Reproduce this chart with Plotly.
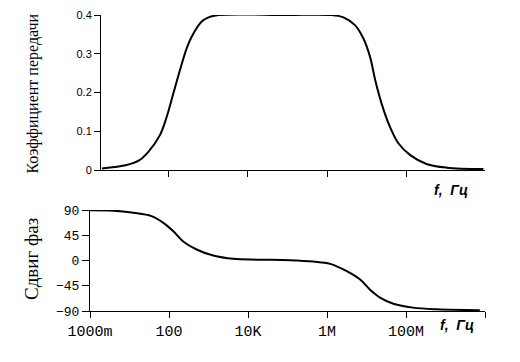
import math
import plotly.graph_objects as go

# Magnitude response (transfer coefficient)
mag_freq = [2, 8.5, 17, 30, 59, 88, 129, 190, 280, 375, 675, 1000, 1800, 1.0e5,
            1.2e6, 2.6e6, 5.1e6, 8.3e6, 1.23e7, 1.66e7, 2.4e7, 3.9e7, 6.4e7,
            1.26e8, 3.3e8, 1.07e9, 9.1e9]
mag_val = [0.004, 0.013, 0.024, 0.047, 0.090, 0.138, 0.198, 0.258, 0.314, 0.344,
           0.383, 0.394, 0.400, 0.400, 0.400, 0.394, 0.374, 0.340, 0.292, 0.232,
           0.172, 0.112, 0.069, 0.039, 0.0155, 0.006, 0.0026]

# Phase response
ph_freq = [1, 3.9, 12.6, 36, 72, 129, 229, 500, 1320, 4270, 1.66e4, 1.15e5, 4.5e5,
           1.2e6, 3.16e6, 6.9e6, 1.23e7, 2.2e7, 4.8e7, 1.5e8, 6e8, 7.4e9]
ph_val = [89.6, 88.8, 85, 79, 67, 52, 34, 19.6, 8.9, 3.0, 1.5, 0.5, -2, -6, -19,
          -34, -52, -66, -77, -84, -87, -88.6]

x_tickvals = [1, 100, 1e4, 1e6, 1e8, 1e10]
x_ticktext = ["1000m", "100", "10K", "1M", "100M", ""]
mag_tickvals = [0, 0.1, 0.2, 0.3, 0.4]
mag_ticktext = ["0", "0.1", "0.2", "0.3", "0.4"]
ph_tickvals = [90, 45, 0, -45, -90]
ph_ticktext = ["90", "45", "0", "\u221245", "\u221290"]

W, H = 520, 362
OFF = 8  # page body margin


def px(x):
    return (x - OFF) / W


def py(y):
    return 1 - (y - OFF) / H


fig = go.Figure()
fig.add_trace(go.Scatter(x=mag_freq, y=mag_val, mode="lines",
                         line=dict(color="black", width=2, shape="spline", smoothing=1.0),
                         xaxis="x", yaxis="y", hoverinfo="skip", cliponaxis=True))
fig.add_trace(go.Scatter(x=ph_freq, y=ph_val, mode="lines",
                         line=dict(color="black", width=2, shape="spline", smoothing=1.0),
                         xaxis="x2", yaxis="y2", hoverinfo="skip"))

common = dict(showline=True, linecolor="black", linewidth=1, ticks="outside",
              tickcolor="black", tickwidth=1, showgrid=False, zeroline=False,
              automargin=False)

fig.update_layout(
    width=W, height=H,
    margin=dict(l=0, r=0, t=0, b=0, pad=0, autoexpand=False),
    paper_bgcolor="white", plot_bgcolor="white",
    showlegend=False,
    xaxis=dict(type="log", range=[math.log10(1.9), 10],
               domain=[px(101), px(485)], anchor="y",
               tickvals=x_tickvals[1:5], showticklabels=False, ticklen=6, **common),
    yaxis=dict(range=[0, 0.4], domain=[py(170), py(15)], anchor="x",
               tickvals=mag_tickvals, ticktext=mag_ticktext, ticklen=6,
               tickfont=dict(family="Liberation Sans", size=11, color="black"), **common),
    xaxis2=dict(type="log", range=[0, 10], domain=[px(90), px(485)], anchor="y2",
                tickvals=x_tickvals, ticktext=x_ticktext, ticklen=6,
                tickfont=dict(family="Liberation Mono", size=15, color="black"), **common),
    yaxis2=dict(range=[-90, 90], domain=[py(311), py(210)], anchor="x2",
                tickvals=ph_tickvals, ticktext=ph_ticktext, ticklen=7,
                tickfont=dict(family="Liberation Mono", size=13, color="black"), **common),
    annotations=[
        dict(text="Коэффициент передачи", textangle=-90, xref="paper", yref="paper",
             x=px(33), y=py(93.5), xanchor="center", yanchor="middle",
             showarrow=False, font=dict(family="Liberation Serif", size=16, color="black")),
        dict(text="Сдвиг фаз", textangle=-90, xref="paper", yref="paper",
             x=px(32), y=py(259), xanchor="center", yanchor="middle",
             showarrow=False, font=dict(family="Liberation Serif", size=19, color="black")),
        dict(text="<b><i>f,\u00a0\u00a0Гц</i></b>", xref="paper", yref="paper",
             x=px(451), y=py(189.5), xanchor="center", yanchor="middle",
             showarrow=False, font=dict(family="Liberation Sans", size=14, color="black")),
        dict(text="<b><i>f,\u00a0\u00a0Гц</i></b>", xref="paper", yref="paper",
             x=px(457), y=py(325), xanchor="center", yanchor="middle",
             showarrow=False, font=dict(family="Liberation Sans", size=14, color="black")),
    ],
)

fig.write_html("out.html")
